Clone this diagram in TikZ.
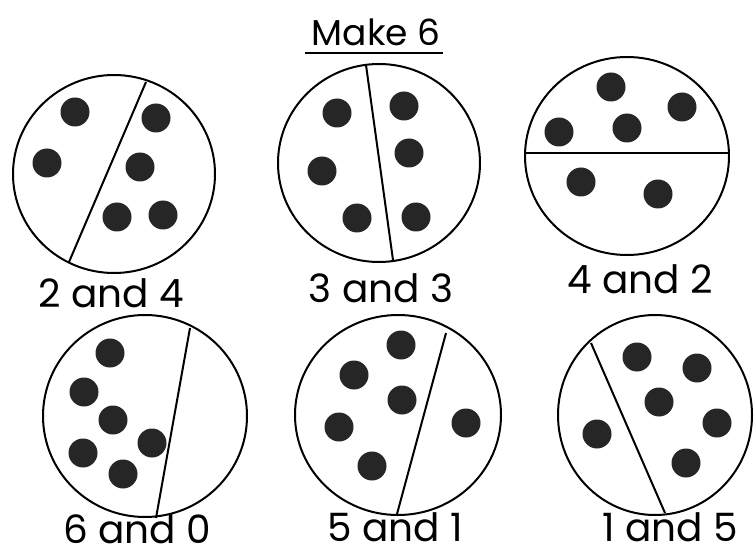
\documentclass[tikz,border=0pt]{standalone}
\usepackage{fontspec}
\setmainfont{Poppins}
\begin{document}
\begin{tikzpicture}[x=1pt,y=-1pt,
  ring/.style={draw,line width=2pt},
  split/.style={draw,line width=2pt},
  dot/.style={circle,fill=black!85,minimum size=29pt,inner sep=0pt},
  lbl/.style={anchor=base,inner sep=1pt,font=\fontsize{39}{39}\selectfont}]
\useasboundingbox (0,0) rectangle (754,553);
% title
\node[anchor=base,font=\fontsize{36}{36}\selectfont] (title) at (376,46) {Make 6};
\draw[split] (305,53) coordinate (ul) -- (443,53) coordinate (ur);
% top row
\coordinate (c1) at (114,174);
\coordinate (c2) at (379,163);
\coordinate (c3) at (627,156);
\draw[ring] (c1) ellipse (101pt and 99pt);
\draw[ring] (c2) ellipse (101pt and 99pt);
\draw[ring] (c3) ellipse (102pt and 99pt);
\draw[split] (146,82) -- (69,262);
\draw[split] (366,65) -- (393,260);
\draw[split] (525,153) -- (729,153);
\foreach \x/\y [count=\i] in {75/112,47/163,156/118,140/167,117/217,163/215}
  \node[dot] (a\i) at (\x,\y) {};
\foreach \x/\y [count=\i] in {337/113,322/171,357/218,404/106,409/153,416/217}
  \node[dot] (b\i) at (\x,\y) {};
\foreach \x/\y [count=\i] in {611/87,682/107,559/132,627/128,581/182,658/194}
  \node[dot] (e\i) at (\x,\y) {};
\node[lbl] (l1) at (111,307) {2 and 4};
\node[lbl] (l2) at (381,302) {3 and 3};
\node[lbl] (l3) at (640,293) {4 and 2};
% bottom row
\coordinate (c4) at (145,416);
\coordinate (c5) at (398,415);
\coordinate (c6) at (655,415);
\draw[ring] (c4) ellipse (102pt and 101pt);
\draw[ring] (c5) ellipse (103pt and 100pt);
\draw[ring] (c6) ellipse (97pt and 100pt);
\draw[split] (190,328) -- (156,518);
\draw[split] (446,333) -- (397,514);
\draw[split] (591,343) -- (665,513);
\foreach \x/\y [count=\i] in {110/353,84/392,113/420,83/453,152/443,123/474}
  \node[dot] (f\i) at (\x,\y) {};
\foreach \x/\y [count=\i] in {401/345,354/375,402/400,339/427,372/466,466/423}
  \node[dot] (g\i) at (\x,\y) {};
\foreach \x/\y [count=\i] in {637/357,697/368,659/402,597/434,717/423,686/463}
  \node[dot] (h\i) at (\x,\y) {};
\node[lbl] (l4) at (137,543) {6 and 0};
\node[lbl] (l5) at (395,541) {5 and 1};
\node[lbl] (l6) at (670,541) {1 and 5};
\end{tikzpicture}
\end{document}
